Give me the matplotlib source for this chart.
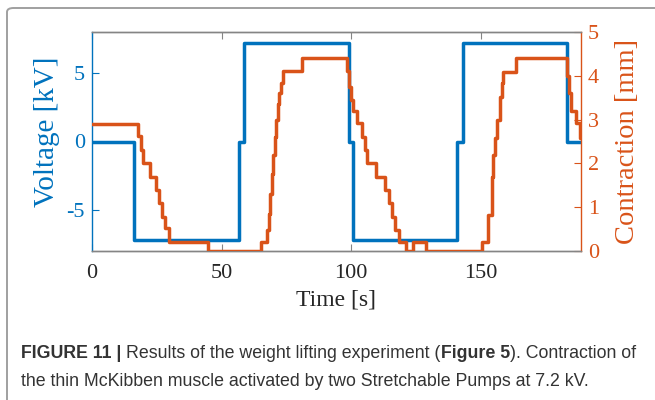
import matplotlib
matplotlib.use("Agg")
import matplotlib.pyplot as plt
from matplotlib.patches import FancyBboxPatch

# Applied voltage [kV] (step changes)
volt_time = [0, 16.3, 56.9, 58.7, 99.3, 100.9, 141.0, 143.1, 183.3, 188.6]
volt_kv = [0, -7.2, 0, 7.2, 0, -7.2, 0, 7.2, 0, 0]

# Measured contraction [mm]
contr_time = [0, 17.6, 18.8, 19.8, 22.4, 24.8, 25.8, 27.2, 28.3, 29.8, 44.9,
              65.3, 67.5, 68.2, 68.8, 69.4, 70.0, 70.6, 71.2, 71.8, 72.3, 72.9,
              73.9, 81.0,
              98.3, 99.2, 100.0, 100.9, 102.2, 104.3, 105.4, 106.2, 109.7,
              113.2, 114.5, 115.8, 117.0, 118.3, 121.2, 123.8, 129.0,
              150.4, 153.0, 154.3, 154.9, 155.6, 156.3, 157.5, 158.2, 158.8,
              163.7,
              183.3, 184.1, 185.0, 186.6, 188.2, 188.6]
contr_mm = [2.9, 2.62, 2.3, 2.02, 1.70, 1.39, 1.1, 0.78, 0.52, 0.2, 0.0,
            0.2, 0.48, 0.85, 1.3, 1.75, 2.2, 2.6, 3.0, 3.35, 3.6, 3.83,
            4.11, 4.4,
            4.1, 3.75, 3.45, 3.2, 2.92, 2.6, 2.3, 2.0, 1.7,
            1.39, 1.09, 0.78, 0.48, 0.21, 0.0, 0.2, 0.0,
            0.2, 0.82, 1.7, 2.2, 2.57, 3.0, 3.52, 3.83, 4.09,
            4.4,
            4.0, 3.6, 3.2, 2.92, 2.57, 2.57]

x_ticks = [0, 50, 100, 150]
volt_ticks = [-5, 0, 5]
contr_ticks = [0, 1, 2, 3, 4, 5]

BLUE = (0.0, 0.447, 0.741)
ORANGE = (0.85, 0.325, 0.098)
SPINE = "#858585"
SERIF = ["Liberation Serif", "DejaVu Serif"]

fig = plt.figure(figsize=(6.55, 4.0), dpi=100)

# frame around the figure panel
frame = FancyBboxPatch((7 / 655, -0.2), 1.2, 1 - 8 / 400 + 0.2,
                       boxstyle="round,pad=0,rounding_size=0.01",
                       transform=fig.transFigure, fill=False,
                       edgecolor="#a0a0a0", linewidth=1.4)
fig.patches.append(frame)

ax = fig.add_axes([92 / 655, 1 - 251 / 400, (580.7 - 92) / 655, (251 - 32) / 400])
ax2 = ax.twinx()

ax.step(volt_time, volt_kv, where="post", color=BLUE, lw=2.5, zorder=2)
ax2.step(contr_time, contr_mm, where="post", color=ORANGE, lw=2.5, zorder=3)

ax.set_xlim(0, 188.6)
ax.set_ylim(-8, 8)
ax2.set_ylim(0, 5)
ax.set_xticks(x_ticks)
ax.set_yticks(volt_ticks)
ax2.set_yticks(contr_ticks)

for a in (ax, ax2):
    for s in a.spines.values():
        s.set_color(SPINE)
        s.set_linewidth(1.0)
ax.spines["left"].set_color(BLUE)
ax2.spines["left"].set_visible(False)
ax2.spines["right"].set_color(ORANGE)
ax.spines["right"].set_visible(False)

ax.tick_params(axis="x", direction="in", length=5, width=0.8, color=SPINE,
               top=True, labelcolor="#262626", labelsize=16, pad=9)
ax.tick_params(axis="y", direction="in", length=5, width=0.8, color=BLUE,
               labelcolor=BLUE, labelsize=16, pad=5)
ax2.tick_params(axis="y", direction="in", length=5, width=0.8, color=ORANGE,
                labelcolor=ORANGE, labelsize=16, pad=5)
for lab in ax.get_xticklabels() + ax.get_yticklabels() + ax2.get_yticklabels():
    lab.set_family(SERIF)
ax.set_yticklabels([str(v) for v in volt_ticks])

ax.set_xlabel("Time [s]", family=SERIF, fontsize=17, color="#262626")
ax.set_ylabel("Voltage [kV]", family=SERIF, fontsize=21, color=BLUE)
ax2.set_ylabel("Contraction [mm]", family=SERIF, fontsize=20.5, color=ORANGE)
ax.xaxis.set_label_coords(0.5, -0.175)
ax.yaxis.set_label_coords(-0.066, 0.545)
ax2.yaxis.set_label_coords(1.07, 0.5)

# caption with mixed bold / regular runs
caption = [
    [("FIGURE 11 | ", "bold"), ("Results of the weight lifting experiment (", "normal"),
     ("Figure 5", "bold"), ("). Contraction of", "normal")],
    [("the thin McKibben muscle activated by two Stretchable Pumps at 7.2 kV.", "normal")],
]
fig.canvas.draw()
renderer = fig.canvas.get_renderer()
W = fig.bbox.width
line_y = [1 - 358 / 400, 1 - 386 / 400]
for runs, y in zip(caption, line_y):
    x = 21 / 655
    for text, weight in runs:
        t = fig.text(x, y, text, fontsize=12.8, weight=weight, color="#333333",
                     family=["Liberation Sans", "DejaVu Sans"], va="baseline")
        bb = t.get_window_extent(renderer)
        x = bb.x1 / W

fig.savefig("out.png", dpi=100)
